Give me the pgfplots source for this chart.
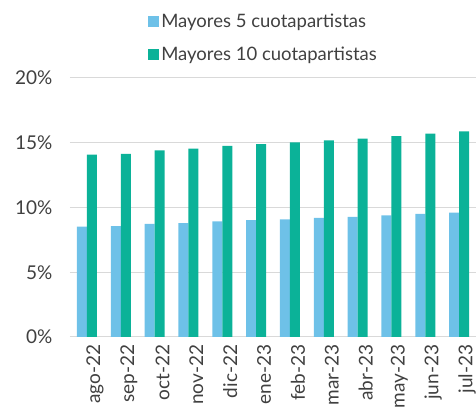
\documentclass[border=0pt]{standalone}
\usepackage{pgfplots}
\pgfplotsset{compat=1.18}
\usepackage{fontspec}
\setmainfont{Lato}
\definecolor{barblue}{RGB}{110,193,232}
\definecolor{bargreen}{RGB}{11,178,152}
\definecolor{txt}{RGB}{64,64,64}
\begin{document}
\begin{tikzpicture}
\path[use as bounding box] (0,0) rectangle (476pt,409pt);
\begin{axis}[
  at={(70pt,72pt)}, anchor=south west,
  scale only axis,
  width=406pt, height=259pt,
  ybar=0pt,
  bar width=10pt,
  xmin=-0.5, xmax=11.5,
  ymin=0, ymax=20,
  xtick=data,
  xticklabels={ago-22,sep-22,oct-22,nov-22,dic-22,ene-23,feb-23,mar-23,abr-23,may-23,jun-23,jul-23},
  xticklabel style={rotate=90, anchor=east, font=\fontsize{19}{22}\selectfont, text=txt},
  ytick={0,5,10,15,20},
  yticklabels={0\%,5\%,10\%,15\%,20\%},
  yticklabel style={font=\fontsize{19}{22}\selectfont, text=txt},
  x tick label style={yshift=-8pt},
  y tick label style={xshift=-14pt},
  ymajorgrids=true,
  major grid style={black!15, line width=1pt},
  axis line style={draw=none},
  tick style={draw=none},
  legend style={at={(axis description cs:0.185,1.262)}, anchor=north west,
    draw=none, fill=none, font=\fontsize{18.5}{21}\selectfont, text=txt,
    row sep=14pt, cells={anchor=west}},
  legend image code/.code={\fill[#1] (0pt,-5.5pt) rectangle (11pt,5.5pt);},
  clip=false
]
\addplot[fill=barblue, draw=none] coordinates {
  (0,8.52) (1,8.57) (2,8.73) (3,8.80) (4,8.93) (5,9.03)
  (6,9.09) (7,9.19) (8,9.27) (9,9.39) (10,9.50) (11,9.60)};
\addplot[fill=bargreen, draw=none] coordinates {
  (0,14.08) (1,14.15) (2,14.42) (3,14.54) (4,14.75) (5,14.90)
  (6,15.03) (7,15.19) (8,15.31) (9,15.52) (10,15.70) (11,15.88)};
\legend{Mayores 5 cuotapartistas, Mayores 10 cuotapartistas}
\end{axis}
\end{tikzpicture}
\end{document}
